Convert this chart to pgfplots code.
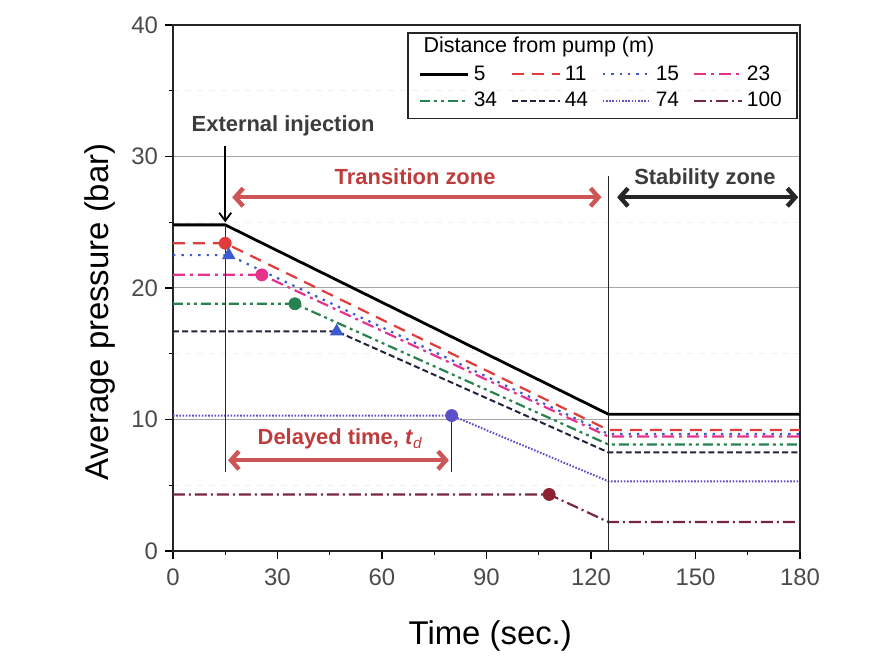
\documentclass[border=0pt]{standalone}
\usepackage{fontspec}
\setmainfont{Liberation Sans}
\usepackage{pgfplots}
\pgfplotsset{compat=1.18}
\usetikzlibrary{arrows.meta}
\definecolor{c11}{RGB}{225,60,60}
\definecolor{c15}{RGB}{60,90,210}
\definecolor{c23}{RGB}{230,50,140}
\definecolor{c34}{RGB}{40,130,80}
\definecolor{c44}{RGB}{35,35,60}
\definecolor{c74}{RGB}{90,80,200}
\definecolor{c100}{RGB}{120,40,60}
\definecolor{arrred}{RGB}{205,85,85}
\definecolor{txtred}{RGB}{190,60,60}
\definecolor{txtgray}{RGB}{60,60,60}
\definecolor{tickgray}{RGB}{75,75,75}
\begin{document}
\begin{tikzpicture}
\begin{axis}[
  scale only axis,
  width=313.5bp, height=263bp,
  xmin=0, xmax=180, ymin=0, ymax=40,
  xtick={0,30,...,180}, ytick={0,10,...,40},
  minor xtick={15,45,...,165}, minor ytick={5,15,...,35},
  xtick pos=bottom, ytick pos=left,
  tick align=outside,
  major tick length=4bp, minor tick length=2bp,
  every tick/.style={black, line width=0.6bp},
  axis line style={black!85, line width=0.8bp},
  ymajorgrids, yminorgrids,
  major grid style={gray!70, line width=0.5bp},
  minor grid style={gray!12, line width=0.4bp, dashed},
  /pgf/number format/assume math mode=true,
  tick label style={font=\fontsize{12}{13}\selectfont, color=tickgray},
  xticklabel style={yshift=-1.5bp},
  xlabel={Time (sec.)}, ylabel={Average pressure (bar)},
  label style={font=\fontsize{16.5}{18}\selectfont},
  xlabel style={at={(axis description cs:0.506,-0.1616)}, anchor=center},
  ylabel style={at={(axis description cs:-0.1164,0.454)}, anchor=center},
  legend columns=4,
  legend style={draw=none, fill=none, at={(axis cs:70.5,37.25)}, anchor=north west,
    font=\fontsize{10.5}{11.5}\selectfont, inner sep=0pt,
    /tikz/every even column/.append style={column sep=4.8bp},
    row sep=0.5bp},
  legend cell align=left,
  legend image code/.code={\draw[#1] (0bp,0bp) -- (24bp,0bp);},
]
\addplot[black, line width=1.4bp] coordinates {(0,24.8) (15,24.8) (125,10.4) (180,10.4)};
\addlegendentry{5}
\addplot[c11, line width=1.1bp, dash pattern=on 6bp off 4bp] coordinates {(0,23.4) (15,23.4) (125,9.2) (180,9.2)};
\addlegendentry{11}
\addplot[c15, line width=1.1bp, dash pattern=on 1.2bp off 3bp] coordinates {(0,22.5) (16,22.5) (125,8.9) (180,8.9)};
\addlegendentry{15}
\addplot[c23, line width=1.1bp, dash pattern=on 6bp off 2.5bp on 1.5bp off 2.5bp] coordinates {(0,21.0) (25.5,21.0) (125,8.7) (180,8.7)};
\addlegendentry{23}
\addplot[c34, line width=1.1bp, dash pattern=on 5bp off 2bp on 1.5bp off 2bp on 1.5bp off 2bp] coordinates {(0,18.8) (35,18.8) (125,8.1) (180,8.1)};
\addlegendentry{34}
\addplot[c44, line width=1.0bp, dash pattern=on 3bp off 1.6bp] coordinates {(0,16.7) (47,16.7) (125,7.5) (180,7.5)};
\addlegendentry{44}
\addplot[c74, line width=1.0bp, dash pattern=on 0.8bp off 0.8bp] coordinates {(0,10.3) (80,10.3) (125,5.3) (180,5.3)};
\addlegendentry{74}
\addplot[c100, line width=1.1bp, dash pattern=on 6bp off 2bp on 1bp off 2bp] coordinates {(0,4.3) (108,4.3) (125,2.2) (180,2.2)};
\addlegendentry{100}
% markers
\addplot[only marks, mark=*, mark size=3bp, color=c11, forget plot] coordinates {(15,23.4)};
\addplot[only marks, mark=triangle*, mark size=3.5bp, color=c15, forget plot] coordinates {(16,22.5)};
\addplot[only marks, mark=*, mark size=3bp, color=c23, forget plot] coordinates {(25.5,21.0)};
\addplot[only marks, mark=*, mark size=3bp, color=c34, forget plot] coordinates {(35,18.8)};
\addplot[only marks, mark=triangle*, mark size=3.5bp, color=c15, forget plot] coordinates {(47,16.7)};
\addplot[only marks, mark=*, mark size=3bp, color=c74, forget plot] coordinates {(80,10.3)};
\addplot[only marks, mark=*, mark size=3bp, color=c100!85!red, forget plot] coordinates {(108,4.3)};
% annotations
\draw[black!85, line width=0.6bp] (axis cs:15,24.8) -- (axis cs:15,6.0);
\draw[black!85, line width=0.6bp] (axis cs:125,28.5) -- (axis cs:125,0);
\draw[black!85, line width=0.6bp] (axis cs:80,10.3) -- (axis cs:80,6.0);
\draw[black, line width=0.9bp, -{Straight Barb[length=4bp,width=6bp]}] (axis cs:15,30.8) -- (axis cs:15,25.0);
\node[font=\fontsize{11}{12}\selectfont\bfseries, text=txtgray] at (axis cs:31.6,32.3) {External injection};
\draw[arrred, line width=2.2bp, {Straight Barb[length=4bp,width=9bp]}-{Straight Barb[length=4bp,width=9bp]}] (axis cs:17,26.9) -- (axis cs:123,26.9);
\node[font=\fontsize{11}{12}\selectfont\bfseries, text=txtred] at (axis cs:69.5,28.45) {Transition zone};
\draw[black!85, line width=2.2bp, {Straight Barb[length=4bp,width=9bp]}-{Straight Barb[length=4bp,width=9bp]}] (axis cs:127.5,26.9) -- (axis cs:179.5,26.9);
\node[font=\fontsize{11}{12}\selectfont\bfseries, text=txtgray] at (axis cs:152.7,28.3) {Stability zone};
\draw[arrred, line width=2.2bp, {Straight Barb[length=4bp,width=9bp]}-{Straight Barb[length=4bp,width=9bp]}] (axis cs:15.8,6.9) -- (axis cs:79.2,6.9);
\node[font=\fontsize{11}{12}\selectfont\bfseries, text=txtred] at (axis cs:48,8.5) {Delayed time, \textit{t}$_{\mathbf{\mathit{d}}}$};
% legend box and title
\draw[black!85, line width=0.8bp] (axis cs:67.5,39.4) rectangle (axis cs:179.2,32.9);
\node[anchor=west, font=\fontsize{10.8}{12}\selectfont, inner sep=0pt] at (axis cs:71.8,38.3) {Distance from pump (m)};
\end{axis}
\pgfresetboundingbox
\path ([shift={(-86.5bp,-57bp)}]current axis.south west) rectangle ([shift={(47bp,12.5bp)}]current axis.north east);
\end{tikzpicture}
\end{document}
